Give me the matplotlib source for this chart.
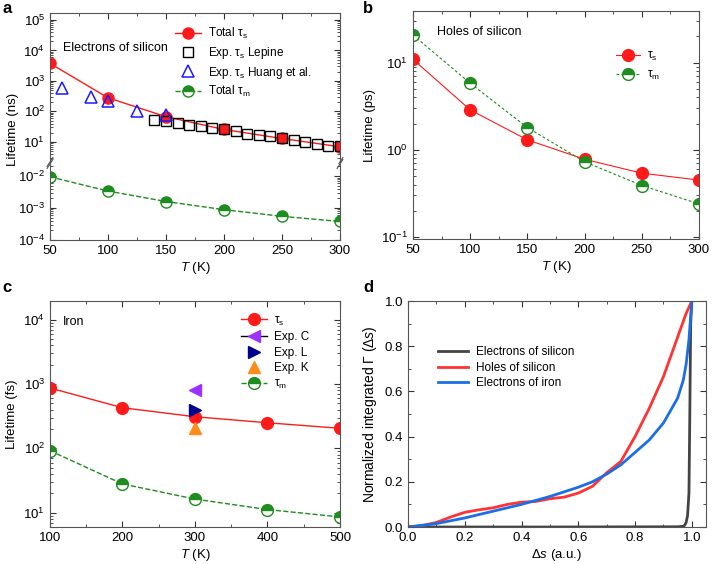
import numpy as np
import matplotlib
matplotlib.use('Agg')
import matplotlib.pyplot as plt
from matplotlib.ticker import LogLocator, NullFormatter, MultipleLocator
from matplotlib.lines import Line2D

plt.rcParams['font.family'] = ['Liberation Sans', 'DejaVu Sans']
plt.rcParams['mathtext.fontset'] = 'custom'
plt.rcParams['mathtext.rm'] = 'Liberation Sans'
plt.rcParams['mathtext.it'] = 'Liberation Sans:italic'
plt.rcParams['font.size'] = 9
plt.rcParams['axes.edgecolor'] = '#555555'
plt.rcParams['axes.linewidth'] = 0.8

# ---- panel a: electrons of silicon (ns)
temp_a = [50, 100, 150, 200, 250, 300]
tau_s_a = [3760, 280, 67, 25.5, 12.9, 6.9]
tau_m_a = [0.0095, 0.0034, 0.0016, 0.00089, 0.00055, 0.00038]
lepine_t = [140, 150, 160, 170, 180, 190, 200, 210, 220, 230, 240, 250, 260, 270, 280, 290, 300]
lepine_tau = [51.5, 49, 42, 37, 32.7, 28, 25.5, 23, 18.8, 16.6, 15.3, 13.9, 11.9, 10, 8.4, 7.6, 7.2]
huang_t = [60, 85, 100, 125, 150]
huang_tau = [566, 300, 217, 102, 79]

# ---- panel b: holes of silicon (ps)
temp_b = [50, 100, 150, 200, 250, 300]
tau_s_b = [10.9, 2.87, 1.30, 0.78, 0.54, 0.45]
tau_m_b = [20.7, 5.8, 1.8, 0.73, 0.39, 0.24]

# ---- panel c: iron (fs)
temp_c = [100, 200, 300, 400, 500]
tau_s_c = [867, 428, 310, 250, 205]
tau_m_c = [92, 28, 16.3, 11.2, 8.6]
exp_c = 807
exp_l = 400
exp_k = 205
exp_t = 300

# ---- panel d: normalized integrated Gamma
ds_red = [0, 0.05, 0.1, 0.15, 0.2, 0.25, 0.3, 0.35, 0.4, 0.45, 0.5, 0.55, 0.6, 0.65,
          0.7, 0.75, 0.8, 0.85, 0.9, 0.95, 0.98, 1.0]
g_red = [0, 0.006, 0.02, 0.044, 0.065, 0.076, 0.085, 0.1, 0.11, 0.113, 0.125, 0.132,
         0.15, 0.18, 0.24, 0.29, 0.4, 0.525, 0.665, 0.84, 0.945, 1.0]
ds_blue = [0, 0.1, 0.2, 0.3, 0.4, 0.5, 0.6, 0.65, 0.7, 0.75, 0.8, 0.85, 0.9, 0.95,
           0.97, 0.98, 0.99, 1.0]
g_blue = [0, 0.015, 0.04, 0.07, 0.1, 0.135, 0.176, 0.2, 0.234, 0.275, 0.33, 0.385,
          0.46, 0.57, 0.65, 0.72, 0.83, 1.0]
ds_black = [0, 0.5, 0.95, 0.97, 0.975, 0.98, 0.985, 0.99, 0.993, 0.996, 1.0]
g_black = [0, 0, 0.001, 0.003, 0.008, 0.02, 0.05, 0.15, 0.5, 0.9, 1.0]

red = '#ff1a1a'
green = '#1e8c1e'


def style(ax, log=True):
    ax.tick_params(which='both', direction='in', top=True, right=True, colors='#333333',
                   labelcolor='black', labelsize=9.5)
    ax.tick_params(which='major', length=4)
    ax.tick_params(which='minor', length=2)
    if log:
        ax.yaxis.set_minor_locator(LogLocator(base=10, subs=np.arange(2, 10)))
        ax.yaxis.set_minor_formatter(NullFormatter())


half = dict(marker='o', fillstyle='top', markerfacecolor=green,
            markerfacecoloralt='white', markeredgecolor=green)

fig = plt.figure(figsize=(7.15, 5.64), dpi=100)

# panel a, broken axis
ax_up = fig.add_axes([0.0699, 0.7128, 0.4056, 0.2642])
ax_lo = fig.add_axes([0.0699, 0.5745, 0.4056, 0.1348])
for ax in (ax_up, ax_lo):
    ax.set_yscale('log')
    ax.set_xlim(50, 300)
    ax.xaxis.set_major_locator(MultipleLocator(50))
    ax.xaxis.set_minor_locator(MultipleLocator(25))
    style(ax)
ax_up.set_ylim(10 ** 0.34, 10 ** 5.23)
ax_lo.set_ylim(1e-4, 10 ** -1.62)
ax_up.spines['bottom'].set_visible(False)
ax_lo.spines['top'].set_visible(False)
ax_up.tick_params(which='both', bottom=False, labelbottom=False)
ax_lo.tick_params(which='both', top=False)
ax_up.set_yticks([1e1, 1e2, 1e3, 1e4, 1e5])
ax_lo.set_yticks([1e-4, 1e-3, 1e-2])

l1, = ax_up.plot(temp_a, tau_s_a, '-o', color=red, lw=1, ms=8, label='Total τ$_\\mathrm{s}$')
l2, = ax_up.plot(lepine_t, lepine_tau, 's', mfc='none', mec='black', ms=7, mew=1,
                 label='Exp. τ$_\\mathrm{s}$ Lepine')
l3, = ax_up.plot(huang_t, huang_tau, '^', mfc='none', mec='#1a1aff', ms=8, mew=1.1,
                 label='Exp. τ$_\\mathrm{s}$ Huang et al.')
l4, = ax_lo.plot(temp_a, tau_m_a, ls='--', color=green, lw=1, ms=8,
                 label='Total τ$_\\mathrm{m}$', **half)
ax_up.legend(handles=[l1, l2, l3, l4], loc='upper left', bbox_to_anchor=(0.43, 0.91),
             frameon=False, borderpad=0, borderaxespad=0, labelspacing=0.3,
             handlelength=2.2, handletextpad=0.6, fontsize=8.5)
ax_up.text(0.045, 0.765, 'Electrons of silicon', transform=ax_up.transAxes,
           va='center', fontsize=9)
# break marks
for x0 in (0, 1):
    for yy, ax in ((0, ax_up), (1, ax_lo)):
        k = 1 if ax is ax_up else 0.51
        ax.plot([x0 - 0.01, x0 + 0.01], [yy - 0.03 / k, yy + 0.03 / k],
                transform=ax.transAxes, color='#555555', lw=0.8, clip_on=False)
ax_lo.set_xlabel('$T$ (K)', labelpad=2, fontsize=9.5)
fig.text(0.018, 0.77, 'Lifetime (ns)', rotation=90, va='center', ha='center', fontsize=9.5)
fig.text(0.003, 0.985, 'a', fontsize=12, fontweight='bold', va='center')

# panel b
ax_b = fig.add_axes([0.5776, 0.5762, 0.4000, 0.4043])
ax_b.set_yscale('log')
ax_b.set_xlim(50, 300)
ax_b.set_ylim(0.095, 39)
ax_b.xaxis.set_major_locator(MultipleLocator(50))
ax_b.xaxis.set_minor_locator(MultipleLocator(25))
style(ax_b)
ax_b.plot(temp_b, tau_s_b, '-o', color=red, lw=0.8, ms=8.5, label='τ$_\\mathrm{s}$')
ax_b.plot(temp_b, tau_m_b, color=green, lw=0.8, ls=(0, (2.5, 2)), ms=8.5,
          label='τ$_\\mathrm{m}$', **half)
ax_b.legend(loc='upper left', bbox_to_anchor=(0.71, 0.83), frameon=False, borderpad=0,
            borderaxespad=0, labelspacing=0.55, handlelength=2.0, handletextpad=0.6,
            fontsize=8.5)
ax_b.text(0.085, 0.908, 'Holes of silicon', transform=ax_b.transAxes, va='center', fontsize=9)
ax_b.set_xlabel('$T$ (K)', labelpad=2, fontsize=9.5)
ax_b.set_ylabel('Lifetime (ps)', fontsize=9.5)
fig.text(0.508, 0.985, 'b', fontsize=12, fontweight='bold', va='center')

# panel c
ax_c = fig.add_axes([0.0699, 0.0656, 0.4056, 0.4007])
ax_c.set_yscale('log')
ax_c.set_xlim(100, 500)
ax_c.set_ylim(6.0, 10 ** 4.29)
ax_c.xaxis.set_major_locator(MultipleLocator(100))
ax_c.xaxis.set_minor_locator(MultipleLocator(50))
style(ax_c)
ax_c.set_yticks([1e1, 1e2, 1e3, 1e4])
c1, = ax_c.plot(temp_c, tau_s_c, '-o', color=red, lw=1, ms=8.5, label='τ$_\\mathrm{s}$')
c2, = ax_c.plot([exp_t], [exp_c], '<', color='#9b30ff', ms=9, label='Exp. C')
c3, = ax_c.plot([exp_t], [exp_l], '>', color='#00008b', ms=9, label='Exp. L')
c4, = ax_c.plot([exp_t], [exp_k], '^', color='#ff8c1a', ms=9, label='Exp. K')
c5, = ax_c.plot(temp_c, tau_m_c, ls='--', color=green, lw=1, ms=8.5,
                label='τ$_\\mathrm{m}$', **half)
h_c = Line2D([], [], color='black', lw=1, marker='<', mfc='#9b30ff', mec='#9b30ff', ms=9)
ax_c.legend(handles=[c1, h_c, c3, c4, c5], labels=[c1.get_label(), 'Exp. C', 'Exp. L',
            'Exp. K', c5.get_label()], loc='upper left', bbox_to_anchor=(0.66, 0.94),
            frameon=False, borderpad=0, borderaxespad=0, labelspacing=0.3,
            handlelength=2.2, handletextpad=0.6, fontsize=8.5)
ax_c.text(0.045, 0.907, 'Iron', transform=ax_c.transAxes, va='center', fontsize=9)
ax_c.set_xlabel('$T$ (K)', labelpad=2, fontsize=9.5)
ax_c.set_ylabel('Lifetime (fs)', fontsize=9.5)
fig.text(0.003, 0.49, 'c', fontsize=12, fontweight='bold', va='center')

# panel d
ax_d = fig.add_axes([0.5706, 0.0656, 0.4168, 0.4007])
ax_d.set_xlim(0, 1.05)
ax_d.set_ylim(0, 1.0)
ax_d.xaxis.set_major_locator(MultipleLocator(0.2))
ax_d.xaxis.set_minor_locator(MultipleLocator(0.1))
ax_d.yaxis.set_major_locator(MultipleLocator(0.2))
ax_d.yaxis.set_minor_locator(MultipleLocator(0.1))
ax_d.xaxis.set_major_formatter(plt.FormatStrFormatter('%.1f'))
ax_d.yaxis.set_major_formatter(plt.FormatStrFormatter('%.1f'))
style(ax_d, log=False)
ax_d.plot(ds_black, g_black, color='#444444', lw=2, label='Electrons of silicon')
ax_d.plot(ds_red, g_red, color='#ff3333', lw=2, label='Holes of silicon')
ax_d.plot(ds_blue, g_blue, color='#1a6ee6', lw=2, label='Electrons of iron')
ax_d.legend(loc='upper left', bbox_to_anchor=(0.1, 0.8), frameon=False, borderpad=0,
            borderaxespad=0, labelspacing=0.3, handlelength=2.6, handletextpad=0.6,
            fontsize=8.5)
ax_d.set_xlabel('Δ$s$ (a.u.)', labelpad=2, fontsize=9.5)
ax_d.set_ylabel('Normalized integrated Γ (Δ$s$)', fontsize=10)
fig.text(0.508, 0.49, 'd', fontsize=12, fontweight='bold', va='center')

fig.savefig('out.png', dpi=100)
